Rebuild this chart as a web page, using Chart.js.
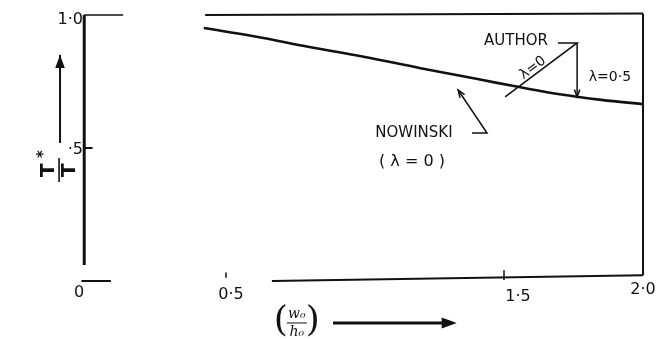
<!DOCTYPE html>
<html>
<head>
<meta charset="utf-8">
<script src="https://cdn.jsdelivr.net/npm/chart.js@4.4.1/dist/chart.umd.min.js"></script>
<style>
  html, body { margin: 0; padding: 0; background: #fff; }
  #wrap { width: 657px; height: 339px; }
</style>
</head>
<body>
<div id="wrap"><canvas id="fig" width="657" height="339"></canvas></div>
<script>
  // curve T*/T against w0/h0 (Nowinski / author, lambda = 0)
  var ratioX = [0.42, 0.60, 0.80, 1.00, 1.20, 1.40, 1.55, 1.70, 1.85, 2.0];
  var ratioT = [0.951, 0.920, 0.880, 0.842, 0.800, 0.760, 0.730, 0.702, 0.681, 0.665];

  // tick labels
  var xTickValues = [0, 0.5, 1.5, 2.0];
  var xTickLabels = ["0", "0·5", "1·5", "2·0"];
  var yTickValues = [0.5, 1.0];
  var yTickLabels = ["·5", "1·0"];

  var ink = "#111";

  function seg(points, width) {
    return {
      data: points,
      showLine: true,
      borderColor: ink,
      borderWidth: width,
      pointRadius: 0,
      tension: 0,
      clip: false
    };
  }

  var curve = ratioX.map(function (x, i) { return { x: x, y: ratioT[i] }; });

  var datasets = [
    {
      data: curve,
      showLine: true,
      borderColor: ink,
      borderWidth: 2.6,
      pointRadius: 0,
      tension: 0.4,
      clip: false
    },
    seg([{ x: 0.425, y: 1.0 }, { x: 2.0, y: 1.006 }], 2),    // top frame, right panel
    seg([{ x: -0.01, y: 1.0 }, { x: 0.13, y: 1.0 }], 1.6),   // top stub, left panel
    seg([{ x: -0.01, y: 1.0 }, { x: -0.01, y: 0.06 }], 3),   // y axis
    seg([{ x: -0.02, y: 0 }, { x: 0.086, y: 0 }], 2),        // bottom stub at 0
    seg([{ x: 0.665, y: 0 }, { x: 2.0, y: 0.022 }], 2),      // bottom frame
    seg([{ x: 2.0, y: 0.022 }, { x: 2.0, y: 1.006 }], 2),    // right frame
    seg([{ x: -0.01, y: 0.5 }, { x: 0.02, y: 0.5 }], 2),     // y tick .5
    seg([{ x: 0.5, y: 0.012 }, { x: 0.5, y: 0.032 }], 1.5),  // x tick .5
    seg([{ x: 1.5, y: 0.004 }, { x: 1.5, y: 0.04 }], 1.5)    // x tick 1.5
  ];

  function arrowHead(ctx, x1, y1, x2, y2, size, filled) {
    var a = Math.atan2(y2 - y1, x2 - x1);
    ctx.beginPath();
    ctx.moveTo(x2 - size * Math.cos(a - 0.35), y2 - size * Math.sin(a - 0.35));
    ctx.lineTo(x2, y2);
    ctx.lineTo(x2 - size * Math.cos(a + 0.35), y2 - size * Math.sin(a + 0.35));
    if (filled) {
      ctx.closePath();
      ctx.fill();
    } else {
      ctx.stroke();
    }
  }

  var notesPlugin = {
    id: "notes",
    afterDatasetsDraw: function (chart) {
      var ctx = chart.ctx;
      var sx = chart.scales.x, sy = chart.scales.y;
      function px(v) { return sx.getPixelForValue(v); }
      function py(v) { return sy.getPixelForValue(v); }

      ctx.save();
      ctx.fillStyle = ink;
      ctx.strokeStyle = ink;
      ctx.textAlign = "center";
      ctx.textBaseline = "middle";

      // tick labels
      var xShift = { 0: -8, 0.5: 5, 1.5: 14, 2: 0 };
      var yShift = { 0: 12, 0.5: 14, 1.5: 16, 2: 9 };
      ctx.font = "16px 'DejaVu Sans', sans-serif";
      xTickValues.forEach(function (v, i) {
        ctx.fillText(xTickLabels[i], px(v) + xShift[v], sy.bottom + yShift[v]);
      });
      ctx.textAlign = "right";
      yTickValues.forEach(function (v, i) {
        ctx.fillText(yTickLabels[i], px(0) - 4, py(v) + (v === 1 ? 5 : 2));
      });

      // y axis label: T*/T rotated, with arrow
      ctx.lineWidth = 2;
      var ax = px(-0.097);
      ctx.beginPath();
      ctx.moveTo(ax, py(0.519));
      ctx.lineTo(ax, py(0.85));
      ctx.stroke();
      arrowHead(ctx, ax, py(0.6), ax, py(0.85), 14, true);

      ctx.save();
      ctx.translate(px(-0.104), py(0.417));
      ctx.rotate(-Math.PI / 2);
      ctx.textAlign = "center";
      ctx.font = "bold 20px 'DejaVu Sans', sans-serif";
      ctx.fillText("T", 0, -9);
      ctx.fillText("T", 0, 12);
      ctx.font = "bold 15px 'DejaVu Sans', sans-serif";
      ctx.fillText("*", 16, -14);
      ctx.lineWidth = 1.6;
      ctx.beginPath();
      ctx.moveTo(-12, 1);
      ctx.lineTo(12, 1);
      ctx.stroke();
      ctx.restore();

      // x axis label: (w0/h0) with arrow
      var lx = px(0.755), ly = py(-0.154);
      ctx.textAlign = "center";
      ctx.font = "36px 'DejaVu Serif', serif";
      ctx.fillText("(", lx - 16, ly);
      ctx.fillText(")", lx + 16, ly);
      ctx.font = "italic 14px 'DejaVu Serif', serif";
      ctx.fillText("w₀", lx, ly - 8);
      ctx.fillText("h₀", lx, ly + 10);
      ctx.lineWidth = 1;
      ctx.beginPath();
      ctx.moveTo(lx - 10, ly + 1);
      ctx.lineTo(lx + 10, ly + 1);
      ctx.stroke();
      ctx.lineWidth = 3;
      ctx.beginPath();
      ctx.moveTo(px(0.885), py(-0.158));
      ctx.lineTo(px(1.28), py(-0.158));
      ctx.stroke();
      arrowHead(ctx, px(1.2), py(-0.158), px(1.33), py(-0.158), 16, true);

      // AUTHOR annotation
      ctx.font = "15px 'DejaVu Sans', sans-serif";
      ctx.fillText("AUTHOR", px(1.543), py(0.902));
      ctx.lineWidth = 1.5;
      ctx.beginPath();
      ctx.moveTo(px(1.694), py(0.895));
      ctx.lineTo(px(1.763), py(0.895));
      ctx.lineTo(px(1.504), py(0.692));
      ctx.moveTo(px(1.763), py(0.895));
      ctx.lineTo(px(1.763), py(0.692));
      ctx.stroke();
      arrowHead(ctx, px(1.763), py(0.8), px(1.763), py(0.692), 8, false);

      ctx.save();
      ctx.translate(px(1.604), py(0.801));
      ctx.rotate(-37 * Math.PI / 180);
      ctx.font = "14px 'DejaVu Sans', sans-serif";
      ctx.fillText("λ=0", 0, 0);
      ctx.restore();

      ctx.font = "14px 'DejaVu Sans', sans-serif";
      ctx.fillText("λ=0·5", px(1.881), py(0.767));

      // NOWINSKI annotation
      ctx.font = "15px 'DejaVu Sans', sans-serif";
      ctx.fillText("NOWINSKI", px(1.176), py(0.556));
      ctx.font = "16px 'DejaVu Sans', sans-serif";
      ctx.fillText("( λ = 0 )", px(1.169), py(0.447));
      ctx.lineWidth = 1.5;
      ctx.beginPath();
      ctx.moveTo(px(1.385), py(0.556));
      ctx.lineTo(px(1.439), py(0.556));
      ctx.lineTo(px(1.335), py(0.718));
      ctx.stroke();
      arrowHead(ctx, px(1.439), py(0.556), px(1.335), py(0.718), 8, false);

      ctx.restore();
    }
  };

  new Chart(document.getElementById("fig").getContext("2d"), {
    type: "scatter",
    data: { datasets: datasets },
    options: {
      responsive: false,
      animation: false,
      layout: { padding: { left: 87, right: 14, top: 15, bottom: 58 } },
      plugins: {
        legend: { display: false },
        tooltip: { enabled: false }
      },
      scales: {
        x: { type: "linear", min: 0, max: 2, display: false },
        y: { type: "linear", min: 0, max: 1, display: false }
      }
    },
    plugins: [notesPlugin]
  });
</script>
</body>
</html>
